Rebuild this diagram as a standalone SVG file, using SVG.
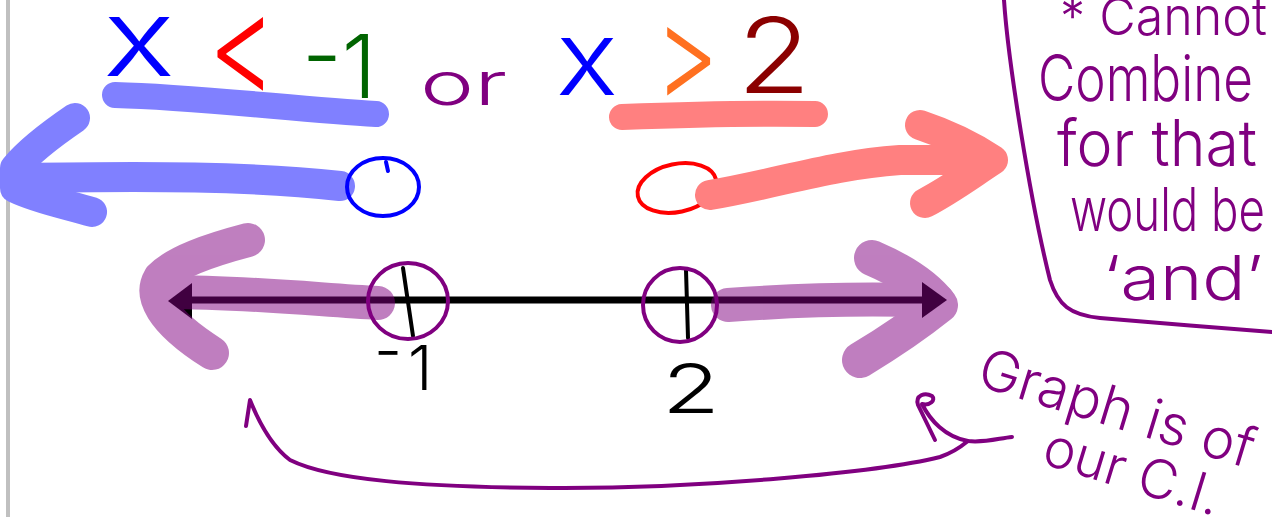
<svg xmlns="http://www.w3.org/2000/svg" width="1272" height="517" viewBox="0 0 1272 517">
<style>
  text { font-family: "Inter", "Liberation Sans", "DejaVu Sans", sans-serif; font-weight: 300; }
  .hl { fill: none; stroke-linecap: round; stroke-linejoin: round; }
  .pen { fill: none; stroke-linecap: round; stroke-linejoin: round; stroke-width: 4; }
  .purple { fill: #800080; }
  .ppen { stroke: #800080; }
</style>
<rect x="0" y="0" width="1272" height="517" fill="#ffffff"/>
<rect x="6" y="0" width="4" height="517" fill="#c0c0c0"/>

<g id="inequality">
  <text x="103" y="76" font-size="108" textLength="72" lengthAdjust="spacingAndGlyphs" fill="#0000ff">x</text>
  <text x="208" y="94" font-size="140" textLength="68" lengthAdjust="spacingAndGlyphs" fill="#ff0000">&lt;</text>
  <text x="302" y="98" font-size="88" fill="#006400"><tspan dy="-8">-</tspan><tspan dy="8">1</tspan></text>
  <text x="420" y="105" font-size="60" textLength="87" lengthAdjust="spacingAndGlyphs" fill="#800080">or</text>
  <text x="556" y="95" font-size="104" textLength="62" lengthAdjust="spacingAndGlyphs" fill="#0000ff">x</text>
  <text x="655" y="98" font-size="130" textLength="64" lengthAdjust="spacingAndGlyphs" fill="#ff7020">&gt;</text>
  <text x="737" y="93" font-size="104" textLength="74" lengthAdjust="spacingAndGlyphs" fill="#8b0000">2</text>
</g>

<g id="blue-ray">
  <path class="hl" d="M115,95 C200,97 300,110 376,114" stroke="#8080ff" stroke-width="26"/>
  <path class="hl" d="M340,186 C250,176 150,176 18,178" stroke="#8080ff" stroke-width="30"/>
  <path class="hl" d="M75,118 C50,135 30,150 15,168 L15,188 C40,200 70,205 92,212" stroke="#8080ff" stroke-width="30"/>
  <ellipse cx="383" cy="187" rx="36" ry="29" class="pen" stroke="#0000ff"/>
  <path class="pen" d="M386,162 L388,171" stroke="#0000ff"/>
</g>

<g id="red-ray">
  <path class="hl" d="M622,117 C700,114 760,113 815,114" stroke="#ff8080" stroke-width="26"/>
  <ellipse cx="677" cy="188" rx="40" ry="24" transform="rotate(-12 677 188)" class="pen" stroke="#ff0000"/>
  <path class="hl" d="M710,195 C780,183 830,165 900,160 L990,160" stroke="#ff8080" stroke-width="30"/>
  <path class="hl" d="M920,125 C950,135 975,148 993,160 C970,175 950,190 925,203" stroke="#ff8080" stroke-width="30"/>
</g>

<g id="number-line">
  <line x1="190" y1="300" x2="925" y2="300" stroke="#000000" stroke-width="7"/>
  <polygon points="168,301 192,283 192,319" fill="#000000"/>
  <polygon points="947,300 922,282 922,318" fill="#000000"/>
  <path class="pen" d="M403,268 L413,336" stroke="#000000"/>
  <path class="pen" d="M686,270 L688,338" stroke="#000000"/>
  <g opacity="0.5">
    <path class="hl" d="M378,303 C320,300 250,292 165,292" stroke="#800080" stroke-width="34"/>
    <path class="hl" d="M248,240 C210,250 175,262 160,278 C150,295 160,320 212,353" stroke="#800080" stroke-width="34"/>
    <path class="hl" d="M728,305 C800,300 870,298 938,301" stroke="#800080" stroke-width="34"/>
    <path class="hl" d="M872,258 C900,270 925,285 940,305 C915,325 885,345 860,360" stroke="#800080" stroke-width="36"/>
  </g>
  <ellipse cx="408" cy="301" rx="40" ry="38" class="pen ppen"/>
  <ellipse cx="680" cy="305" rx="37" ry="37" class="pen ppen"/>
  <text font-size="62" fill="#000000"><tspan x="374" y="372">-</tspan><tspan x="408" y="390">1</tspan></text>
  <text x="662" y="413" font-size="68" textLength="58" lengthAdjust="spacingAndGlyphs" fill="#000000">2</text>
</g>

<g id="note-box">
  <path class="pen ppen" d="M1004,0 C1008,60 1030,200 1050,280 C1058,305 1070,315 1100,318 C1150,322 1220,328 1272,332"/>
  <text x="1060" y="35" font-size="52" textLength="207" lengthAdjust="spacingAndGlyphs" class="purple">* Cannot</text>
  <text x="1038" y="101" font-size="64" textLength="215" lengthAdjust="spacingAndGlyphs" class="purple">Combine</text>
  <text x="1057" y="166" font-size="64" textLength="200" lengthAdjust="spacingAndGlyphs" class="purple">for that</text>
  <text x="1070" y="231" font-size="60" textLength="195" lengthAdjust="spacingAndGlyphs" class="purple">would be</text>
  <text x="1103" y="300" font-size="62" textLength="160" lengthAdjust="spacingAndGlyphs" class="purple">‘and’</text>
</g>

<g id="ci-note">
  <text x="975" y="385" font-size="56" transform="rotate(17 975 385)" class="purple">Graph is of</text>
  <text x="1040" y="463" font-size="54" transform="rotate(17 1040 463)" class="purple">our C.I.</text>
</g>

<g id="connectors">
  <path class="pen ppen" d="M246,426 L250,400 C258,420 270,445 290,460 C330,480 420,487 550,488 C700,489 880,472 940,457 C955,452 962,446 968,441"/>
  <path class="pen ppen" d="M935,440 L918,405 C915,395 925,392 932,396 C936,400 930,406 922,404 C930,420 945,437 968,441 C985,443 1000,438 1012,437"/>
</g>
</svg>
